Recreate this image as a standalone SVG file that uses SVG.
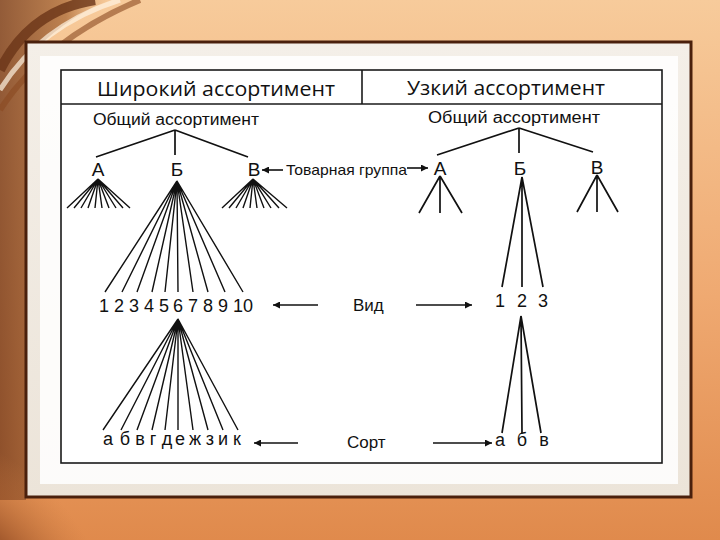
<svg xmlns="http://www.w3.org/2000/svg" width="720" height="540" viewBox="0 0 720 540">
<defs>
<linearGradient id="bg" x1="0" y1="0" x2="0" y2="1">
<stop offset="0" stop-color="#f7cb9b"/>
<stop offset="0.55" stop-color="#efa971"/>
<stop offset="1" stop-color="#e08a4c"/>
</linearGradient>
<linearGradient id="leftband" x1="0" y1="0" x2="1" y2="0">
<stop offset="0" stop-color="#7a4020"/>
<stop offset="0.6" stop-color="#b0703e"/>
<stop offset="1" stop-color="#d99a62" stop-opacity="0"/>
</linearGradient>
<radialGradient id="blob" cx="0" cy="1" r="1">
<stop offset="0" stop-color="#5a2a12"/>
<stop offset="0.7" stop-color="#9a5228"/>
<stop offset="1" stop-color="#c77a42" stop-opacity="0"/>
</radialGradient>
<linearGradient id="panel" x1="0" y1="0" x2="0" y2="1">
<stop offset="0" stop-color="#f4efe8"/>
<stop offset="1" stop-color="#ece4d9"/>
</linearGradient>
<marker id="ah" viewBox="0 0 10 10" refX="10" refY="5" markerWidth="9" markerHeight="7" markerUnits="userSpaceOnUse" orient="auto">
<path d="M0,0 L10,5 L0,10 z" fill="#111"/>
</marker>
<style>
.t{font-family:"Liberation Sans",Arial,sans-serif;fill:#111;}
.h{font-family:"Open Sans","Liberation Sans",sans-serif;fill:#111;font-size:20px;}
.lbl{font-size:18px;text-anchor:middle;}
.nd{font-size:19px;text-anchor:middle;}
.sm{font-size:16px;}
.ln{stroke:#111;stroke-width:1.7;fill:none;}
.fn{stroke:#111;stroke-width:1.4;fill:none;}
.ar{stroke:#111;stroke-width:1.6;fill:none;marker-end:url(#ah);}
</style>
</defs>

<!-- background -->
<rect x="0" y="0" width="720" height="540" fill="url(#bg)"/>
<path d="M0,0 L0,500 L26,500 L26,60 Q60,20 110,0 Z" fill="url(#leftband)" opacity="0.8"/>
<path d="M0,70 Q30,10 95,0" stroke="#6a3418" stroke-width="10" fill="none" opacity="0.8"/>
<path d="M0,90 Q40,25 120,0" stroke="#fff3e2" stroke-width="5" fill="none" opacity="0.7"/>
<path d="M0,110 Q45,40 140,0" stroke="#8a4a22" stroke-width="6" fill="none" opacity="0.6"/>
<circle cx="0" cy="540" r="120" fill="url(#blob)" opacity="0.9"/>

<!-- frame -->
<rect x="26" y="42" width="665" height="455" fill="url(#panel)" stroke="#4a200c" stroke-width="3"/>
<rect x="40" y="56" width="638" height="428" fill="#ffffff" opacity="0.85"/>

<!-- table -->
<g id="table">
<rect x="61" y="70" width="601" height="393" fill="#fff" stroke="#1a1a1a" stroke-width="1.6"/>
<line x1="61" y1="104" x2="662" y2="104" stroke="#1a1a1a" stroke-width="1.6"/>
<line x1="362" y1="70" x2="362" y2="104" stroke="#1a1a1a" stroke-width="1.6"/>
</g>

<g id="header-wide"><text class="h" x="216" y="96" text-anchor="middle" textLength="238" lengthAdjust="spacingAndGlyphs">Широкий ассортимент</text></g>
<g id="header-narrow"><text class="h" x="506" y="95" text-anchor="middle" textLength="198" lengthAdjust="spacingAndGlyphs">Узкий ассортимент</text></g>

<!-- connectors -->
<g id="connectors">
<path class="ln" d="M175,130 L96,157 M175,130 L175,155 M175,130 L248,157"/>
<path class="fn" d="M98,179 L67,208 M98,179 L74,208 M98,179 L81,208 M98,179 L88,208 M98,179 L95,208 M98,179 L102,208 M98,179 L109,208 M98,179 L116,208 M98,179 L123,208 M98,179 L130,208"/>
<path class="fn" d="M253,179 L222,208 M253,179 L229,208 M253,179 L236,208 M253,179 L243,208 M253,179 L250,208 M253,179 L257,208 M253,179 L264,208 M253,179 L271,208 M253,179 L279,208 M253,179 L287,208"/>
<path class="fn" d="M177,181 L105,292 M177,181 L122,292 M177,181 L137,292 M177,181 L152,292 M177,181 L165,292 M177,181 L178,292 M177,181 L193,292 M177,181 L208,292 M177,181 L225,292 M177,181 L243,292"/>
<path class="fn" d="M178,319 L103,430 M178,319 L121,430 M178,319 L137,430 M178,319 L152,430 M178,319 L165,430 M178,319 L178,430 M178,319 L193,430 M178,319 L208,430 M178,319 L223,430 M178,319 L238,430"/>
<path class="ln" d="M519,128 L437,155 M519,128 L519,153 M519,128 L593,152"/>
<path class="ln" d="M440,176 L419,213 M440,176 L440,213 M440,176 L462,213"/>
<path class="ln" d="M597,175 L577,212 M597,175 L597,212 M597,175 L618,212"/>
<path class="ln" d="M522,177 L502,287 M522,177 L522,287 M522,177 L543,287"/>
<path class="ln" d="M521,316 L502,433 M521,316 L522,433 M521,316 L541,433"/>
<line class="ar" x1="283" y1="170" x2="262" y2="170"/>
<line class="ar" x1="407" y1="168" x2="428" y2="168"/>
<line class="ar" x1="318" y1="305" x2="273" y2="305"/>
<line class="ar" x1="416" y1="305" x2="472" y2="305"/>
<line class="ar" x1="298" y1="443" x2="254" y2="443"/>
<line class="ar" x1="433" y1="443" x2="492" y2="443"/>
</g>

<!-- left tree nodes -->
<g id="left-root"><text class="t sm" x="93" y="125" textLength="166" lengthAdjust="spacingAndGlyphs">Общий ассортимент</text></g>
<g id="left-A"><text class="t nd" x="98" y="176">А</text></g>
<g id="left-B"><text class="t nd" x="177" y="176">Б</text></g>
<g id="left-V"><text class="t nd" x="254" y="176">В</text></g>
<g id="group-label"><text class="t" x="286" y="175" font-size="15" textLength="121" lengthAdjust="spacingAndGlyphs">Товарная группа</text></g>
<g id="left-vid">
<text class="t lbl" x="104" y="312">1</text>
<text class="t lbl" x="119" y="312">2</text>
<text class="t lbl" x="134" y="312">3</text>
<text class="t lbl" x="149" y="312">4</text>
<text class="t lbl" x="164" y="312">5</text>
<text class="t lbl" x="178" y="312">6</text>
<text class="t lbl" x="193" y="312">7</text>
<text class="t lbl" x="208" y="312">8</text>
<text class="t lbl" x="223" y="312">9</text>
<text class="t lbl" x="243" y="312">10</text>
</g>
<g id="vid-label"><text class="t" x="353" y="311" font-size="17">Вид</text></g>
<g id="left-sort">
<text class="t lbl" x="108" y="445">а</text>
<text class="t lbl" x="125" y="445">б</text>
<text class="t lbl" x="140" y="445">в</text>
<text class="t lbl" x="153" y="445">г</text>
<text class="t lbl" x="167" y="445">д</text>
<text class="t lbl" x="180" y="445">е</text>
<text class="t lbl" x="195" y="445">ж</text>
<text class="t lbl" x="210" y="445">з</text>
<text class="t lbl" x="223" y="445">и</text>
<text class="t lbl" x="237" y="445">к</text>
</g>
<g id="sort-label"><text class="t" x="347" y="448" font-size="17">Сорт</text></g>

<!-- right tree nodes -->
<g id="right-root"><text class="t sm" x="428" y="123" textLength="172" lengthAdjust="spacingAndGlyphs">Общий ассортимент</text></g>
<g id="right-A"><text class="t nd" x="440" y="175">А</text></g>
<g id="right-B"><text class="t nd" x="520" y="175">Б</text></g>
<g id="right-V"><text class="t nd" x="597" y="174">В</text></g>
<g id="right-vid">
<text class="t lbl" x="500" y="307">1</text>
<text class="t lbl" x="522" y="307">2</text>
<text class="t lbl" x="543" y="307">3</text>
</g>
<g id="right-sort">
<text class="t lbl" x="500" y="446">а</text>
<text class="t lbl" x="522" y="446">б</text>
<text class="t lbl" x="544" y="446">в</text>
</g>
</svg>
